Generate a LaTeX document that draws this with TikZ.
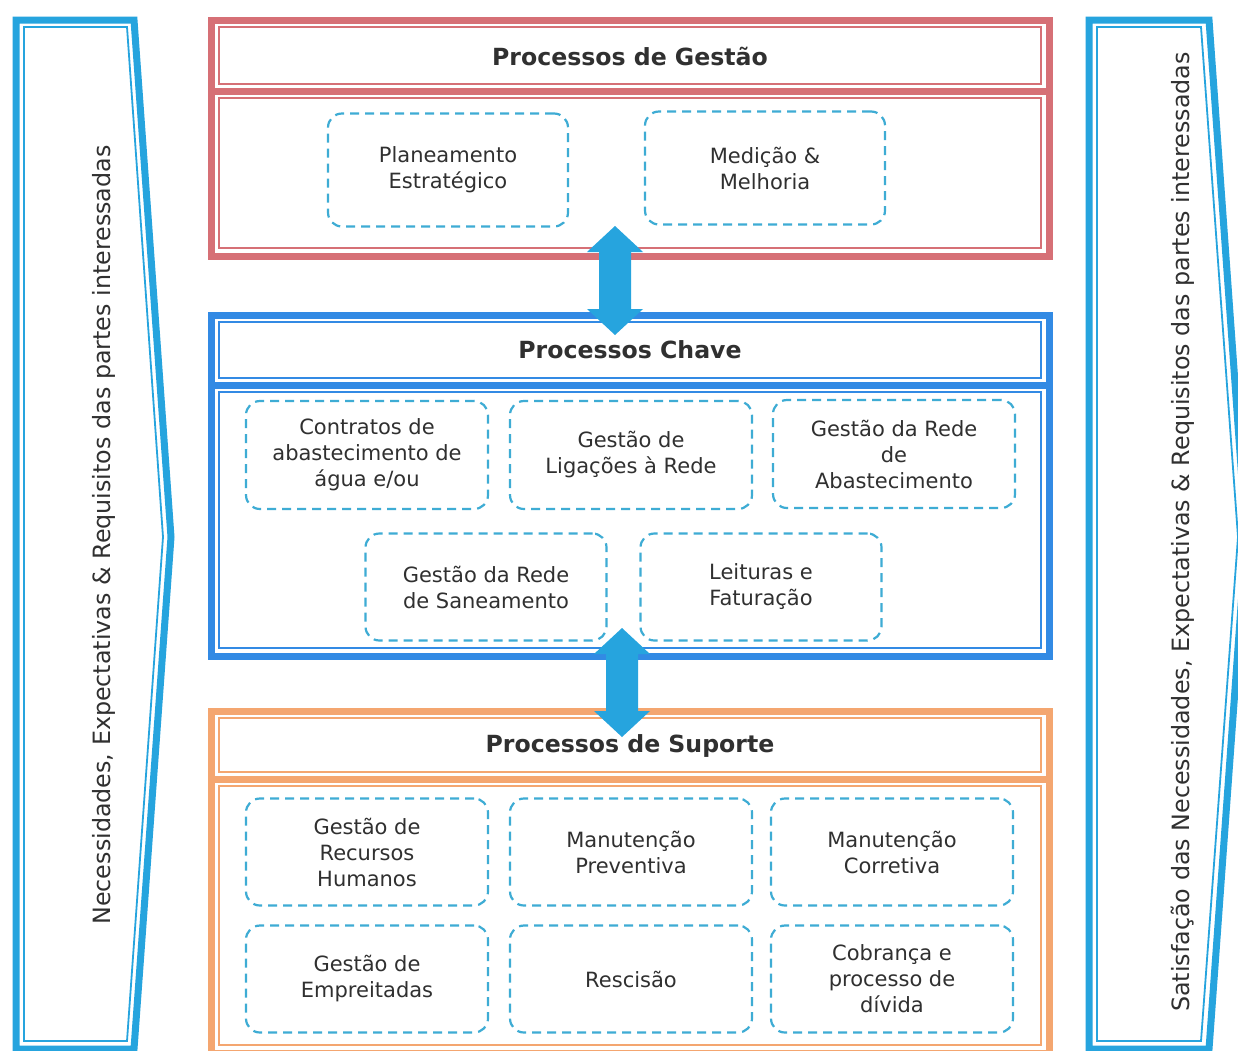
\documentclass[tikz,border=0pt]{standalone}
\usepackage{fontspec}
\setmainfont{DejaVu Sans}
\usetikzlibrary{calc}
\definecolor{cy}{RGB}{38,164,222}
\definecolor{dashcy}{RGB}{62,172,212}
\definecolor{redf}{RGB}{214,112,118}
\definecolor{bluef}{RGB}{50,138,228}
\definecolor{orangef}{RGB}{244,166,112}
\definecolor{txt}{RGB}{48,48,48}
\newcommand\ProcFrame[4]{%
  \draw[#1, line width=7] (211,#2) rectangle (1049,#4);
  \draw[#1, line width=7] (211,#3) -- (1049,#3);
  \draw[#1, line width=1.8] (219,{#2+7}) rectangle (1041,{#3-7});
  \draw[#1, line width=1.8] (219,{#3+7}) rectangle (1041,{#4-8});
}
\newcommand\FatArrow[1]{%
  \fill[cy] (#1) -- ++(28,26) -- ++(-12,0) -- ++(0,57) -- ++(12,0) -- ++(-28,26)
    -- ++(-28,-26) -- ++(12,0) -- ++(0,-57) -- ++(-12,0) -- cycle;
}
\begin{document}
\begin{tikzpicture}[x=1pt,y=-1pt,
  ttl/.style={text=txt, font=\fontsize{23.6}{28}\selectfont\bfseries, inner sep=0},
  dbox/.style={draw=dashcy, line width=2.2, dash pattern=on 9pt off 6pt, rounded corners=14pt,
    text=txt, font=\fontsize{21}{26}\selectfont, align=center, inner sep=2pt},
  side/.style={text=txt, font=\fontsize{23.8}{28}\selectfont, rotate=90, inner sep=0}]
\useasboundingbox (0,0) rectangle (1238,1050);
\clip (0,0) rectangle (1238,1050);
\fill[white] (0,0) rectangle (1238,1050);

% side arrows
\draw[cy, line width=7, line join=miter] (16,20) -- (134,20) -- (171,537) -- (134,1049) -- (16,1049) -- cycle;
\draw[cy, line width=1.8, line join=miter] (24,27) -- (127,27) -- (163,537) -- (127,1041) -- (24,1041) -- cycle;
\draw[cy, line width=7, line join=miter] (1089,20) -- (1209,20) -- (1246,537) -- (1209,1049) -- (1089,1049) -- cycle;
\draw[cy, line width=1.8, line join=miter] (1097,27) -- (1201,27) -- (1238,537) -- (1201,1041) -- (1097,1041) -- cycle;
\node[side] (needs) at (104,535) {Necessidades, Expectativas \& Requisitos das partes interessadas};
\node[side] (satis) at (1183,532) {Satisfação das Necessidades, Expectativas \& Requisitos das partes interessadas};

% process frames
\ProcFrame{redf}{20}{91}{256}
\ProcFrame{bluef}{315}{385}{656}
\ProcFrame{orangef}{711}{779}{1053}

\node[ttl] (tg) at (630,56) {Processos de Gestão};
\node[ttl] (tc) at (630,350) {Processos Chave};
\node[ttl] (ts) at (630,746) {Processos de Suporte};

% Gestão
\node[dbox, minimum width=240, minimum height=113] (pe) at (448,170) {Planeamento\\Estratégico};
\node[dbox, minimum width=240, minimum height=113] (mm) at (765,168) {Medição \&\\Melhoria};

% Chave
\node[dbox, minimum width=242, minimum height=108] (ca) at (367,455) {Contratos de\\abastecimento de\\água e/ou};
\node[dbox, minimum width=242, minimum height=108] (gl) at (631,455) {Gestão de\\Ligações à Rede};
\node[dbox, minimum width=242, minimum height=108] (gr) at (894,454) {Gestão da Rede\\de\\Abastecimento};
\node[dbox, minimum width=241, minimum height=107] (gs) at (486,587) {Gestão da Rede\\de Saneamento};
\node[dbox, minimum width=241, minimum height=107] (lf) at (761,587) {Leituras e\\Faturação};

% Suporte
\node[dbox, minimum width=242, minimum height=107] (rh) at (367,852) {Gestão de\\Recursos\\Humanos};
\node[dbox, minimum width=242, minimum height=107] (mp) at (631,852) {Manutenção\\Preventiva};
\node[dbox, minimum width=242, minimum height=107] (mc) at (892,852) {Manutenção\\Corretiva};
\node[dbox, minimum width=242, minimum height=107] (ge) at (367,979) {Gestão de\\Empreitadas};
\node[dbox, minimum width=242, minimum height=107] (rs) at (631,979) {Rescisão};
\node[dbox, minimum width=242, minimum height=107] (cp) at (892,979) {Cobrança e\\processo de\\dívida};

% fat double arrows
\coordinate (a1) at (615,226);
\coordinate (a2) at (622,628);
\FatArrow{a1}
\FatArrow{a2}
\end{tikzpicture}
\end{document}
